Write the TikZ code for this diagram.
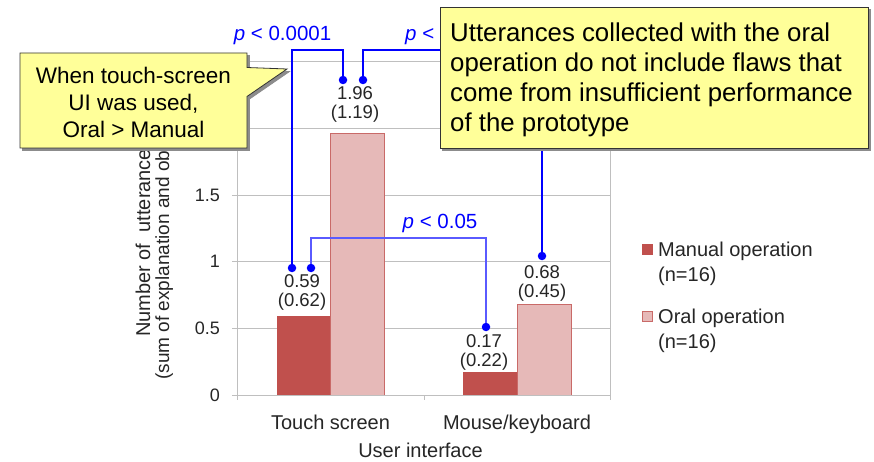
\documentclass[tikz,border=0pt]{standalone}
\usepackage{fontspec}
\setmainfont{Liberation Sans}
\usetikzlibrary{shapes.callouts}
\definecolor{manc}{HTML}{C0504D}
\definecolor{oralc}{HTML}{E6B9B8}
\definecolor{gridc}{HTML}{BFBFBF}
\definecolor{txtc}{HTML}{262626}
\definecolor{calloutc}{HTML}{FFFF99}
\definecolor{pblue}{HTML}{0000FF}
\definecolor{pbluelight}{HTML}{5A5AFF}
\begin{document}
\begin{tikzpicture}[x=1pt,y=-1pt,
  gridl/.style={draw=gridc, line width=0.9pt},
  mbar/.style={fill=manc},
  obar/.style={fill=oralc, draw=manc!85, line width=0.8pt},
  ticklab/.style={anchor=east, inner sep=0, text=txtc, font=\fontsize{18}{20}\selectfont},
  dlab/.style={anchor=base, inner sep=0, text=txtc, font=\fontsize{18.5}{20}\selectfont},
  axlab/.style={anchor=base, inner sep=0, text=txtc, font=\fontsize{20}{24}\selectfont},
  ylab/.style={rotate=90, anchor=base west, inner sep=0, text=txtc},
  leglab/.style={anchor=base west, inner sep=0, text=txtc, font=\fontsize{20}{24}\selectfont},
  dotn/.style={circle, fill=pblue, inner sep=0, minimum size=8.5pt},
  pline/.style={draw=pblue, line width=1.2pt},
  plinelight/.style={draw=pbluelight, line width=1.2pt},
  plab/.style={anchor=base, inner sep=0, text=pblue, font=\fontsize{20.5}{24}\selectfont},
  callbox/.style={fill=calloutc, draw=black!80, line width=0.8pt},
  shadowbox/.style={fill=black!45, draw=black!45, line width=0.8pt},
  ]
\useasboundingbox (0,0) rectangle (874,462);
\fill[white] (0,0) rectangle (874,462);

% gridlines
\draw[gridl] (237,328.3) -- (610,328.3);
\draw[gridl] (237,261.7) -- (610,261.7);
\draw[gridl] (237,195) -- (610,195);
\draw[gridl] (237,128.4) -- (610,128.4);
\draw[gridl] (237,61.75) -- (610,61.75);

% bars
\fill[mbar] (277,395) rectangle (330,316.4);
\draw[obar] (330,395) rectangle (384,133.7);
\fill[mbar] (463,395) rectangle (517,372.3);
\draw[obar] (517,395) rectangle (571,304.4);

% axes
\draw[gridl] (237,61.75) -- (237,395) -- (610,395);
\draw[gridl] (610,61.75) -- (610,400);
\draw[gridl] (237,395) -- (237,400);
\draw[gridl] (424,395) -- (424,400);
\foreach \v in {395,328.3,261.7,195,128.4,61.75} \draw[gridl] (232,\v) -- (237,\v);

% tick labels
\node[ticklab] (y0) at (220,395) {0};
\node[ticklab] (y05) at (220,328.3) {0.5};
\node[ticklab] (y1) at (220,261.7) {1};
\node[ticklab] (y15) at (220,195) {1.5};

% axis labels
\node[axlab] (xc1) at (330.5,429) {Touch screen};
\node[axlab] (xc2) at (517,429) {Mouse/keyboard};
\node[axlab] (xt) at (420.5,457) {User interface};
\node[ylab, font=\fontsize{20}{24}\selectfont] (yl1) at (150,337) {Number of\ \ utterances};
\node[ylab, font=\fontsize{19}{24}\selectfont] (yl2) at (169,380) {(sum of explanation and observation)};

% data labels
\node[dlab] (v1a) at (302,287) {0.59};
\node[dlab] (v1b) at (302,306) {(0.62)};
\node[dlab] (v2a) at (355,100) {1.96};
\node[dlab] (v2b) at (355,119) {(1.19)};
\node[dlab] (v3a) at (484,347) {0.17};
\node[dlab] (v3b) at (484,366) {(0.22)};
\node[dlab] (v4a) at (542,278) {0.68};
\node[dlab] (v4b) at (542,297) {(0.45)};

% legend
\node[fill=manc, minimum size=11pt, inner sep=0] (lm) at (647.5,249) {};
\node[fill=oralc, draw=manc!85, line width=0.8pt, minimum size=10pt, inner sep=0] (lo) at (647.5,316.5) {};
\node[leglab] (lmt1) at (658,256) {Manual operation};
\node[leglab] (lmt2) at (658,281) {(n=16)};
\node[leglab] (lot1) at (658,323) {Oral operation};
\node[leglab] (lot2) at (658,348) {(n=16)};

% significance brackets
\node[dotn] (d1) at (292,268) {};
\node[dotn] (d2) at (343,80) {};
\node[dotn] (d3) at (363,80) {};
\node[dotn] (d4) at (311,268) {};
\node[dotn] (d5) at (486,327) {};
\node[dotn] (d6) at (542,256) {};
\coordinate (top1) at (0,50);
\coordinate (top2) at (0,238);
\draw[pline] (d1.north) -- (d1.north |- top1) -| (d2.north);
\draw[pline] (d3.north) -- (d3.north |- top1) -| (d6.north);
\draw[plinelight] (d4.north) -- (d4.north |- top2) -| (d5.north);
\node[plab] (p1) at (282.5,41) {\textit{p} < 0.0001};
\node[plab, anchor=base west] (p2) at (405,41) {\textit{p} <};
\node[plab] (p3) at (440,229) {\textit{p} < 0.05};

% callouts (shadow copies first, offset right and down)
\node[shadowbox, rectangle callout, minimum width=227pt, minimum height=95pt, inner sep=0,
  callout absolute pointer={(289.5,71.5)}, callout pointer width=29pt] (c1s) at (136,103) {};
\node[callbox, rectangle callout, minimum width=227pt, minimum height=95pt, inner sep=0,
  callout absolute pointer={(287,69)}, callout pointer width=29pt] (c1) at (133.5,100.5) {};
\node[align=center, inner sep=0, font=\fontsize{22.5}{27}\selectfont] (c1t) at (133.5,102)
  {When touch-screen\\UI was used,\\Oral > Manual};
\node[shadowbox, rectangle, minimum width=428pt, minimum height=141pt, inner sep=0] (c2s) at (656.5,80) {};
\node[callbox, rectangle, minimum width=428pt, minimum height=141pt, inner sep=0] (c2) at (654,77.5) {};
\node[align=left, anchor=west, inner sep=0, font=\fontsize{25.8}{30}\selectfont] (c2t) at (450,80)
  {Utterances collected with the oral\\operation do not include flaws that\\come from insufficient performance\\of the prototype};
\end{tikzpicture}
\end{document}
